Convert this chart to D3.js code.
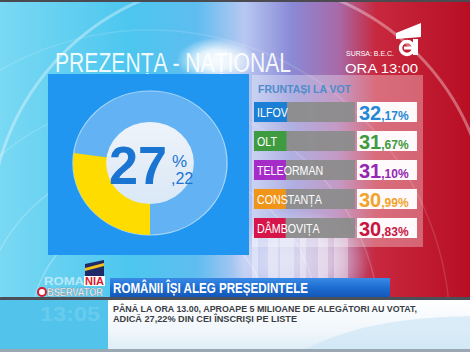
<!DOCTYPE html>
<html lang="ro">
<head>
<meta charset="utf-8">
<script src="https://cdn.jsdelivr.net/npm/d3@7"></script>
<style>
  html, body { margin: 0; padding: 0; background: #000; }
  svg { display: block; font-family: "Liberation Sans", Arial, sans-serif; }
</style>
</head>
<body>
<svg id="chart" width="470" height="352"></svg>
<script>
// Prezența la vot la ora 13:00: inel pentru media națională + fruntașii pe județe.

const judete = ["ILFOV", "OLT", "TELEORMAN", "CONSTANȚA", "DÂMBOVIȚA"];
const prezentaJudete = [32.17, 31.67, 31.1, 30.99, 30.83];
const culoriBare = ["#1b7fd6", "#3f9b3f", "#a52cc9", "#f0941a", "#d6154a"];
const culoriValori = ["#2588d6", "#3f9a3f", "#9426b2", "#f0a42a", "#c8143f"];
const prezentaNationala = 27.22;

const titlu = "PREZENȚA - NAȚIONAL";
const antetLista = "FRUNTAȘI LA VOT";
const sursa = "SURSA: B.E.C.";
const ora = "ORA 13:00";
const titluStire = "ROMÂNII ÎȘI ALEG PREȘEDINTELE";
const textStire = [
  "PÂNĂ LA ORA 13.00, APROAPE 5 MILIOANE DE ALEGĂTORI AU VOTAT,",
  "ADICĂ 27,22% DIN CEI ÎNSCRIȘI PE LISTE",
];

const W = 470;
const H = 352;
const svg = d3.select("#chart");
const defs = svg.append("defs");

function linearGradient(id, stops, x2 = 1, y2 = 0) {
  const g = defs
    .append("linearGradient")
    .attr("id", id)
    .attr("x1", 0)
    .attr("y1", 0)
    .attr("x2", x2)
    .attr("y2", y2);
  g.selectAll("stop")
    .data(stops)
    .join("stop")
    .attr("offset", (d) => d[0])
    .attr("stop-color", (d) => d[1])
    .attr("stop-opacity", (d) => (d[2] ?? 1));
}

linearGradient("fundal", [
  [0, "#7ad9f3"],
  [0.28, "#4cc6ef"],
  [0.42, "#5fbdf0"],
  [0.52, "#b8c8f2"],
  [0.62, "#8a8ad6"],
  [0.72, "#a86aa8"],
  [0.8, "#c8283e"],
  [1, "#b80e24"],
]);
linearGradient("banda", [
  [0, "#3a8ae6"],
  [0.5, "#1d6ed2"],
  [1, "#1557b8"],
], 0, 1);
linearGradient("subsol", [
  [0, "#ffffff"],
  [0.6, "#f0f6fb"],
  [1, "#dcecf6"],
], 0, 1);
linearGradient("disc", [
  [0, "#eef3fa"],
  [1, "#dae8f6"],
], 0, 1);

const stralucire = defs
  .append("radialGradient")
  .attr("id", "stralucire");
stralucire.append("stop").attr("offset", 0).attr("stop-color", "#fff").attr("stop-opacity", 0.95);
stralucire.append("stop").attr("offset", 0.45).attr("stop-color", "#fff").attr("stop-opacity", 0.8);
stralucire.append("stop").attr("offset", 1).attr("stop-color", "#fff").attr("stop-opacity", 0);

// --- fundal ---
svg.append("rect").attr("width", W).attr("height", H).attr("fill", "url(#fundal)");
svg.append("ellipse")
  .attr("cx", 300).attr("cy", 260).attr("rx", 70).attr("ry", 50)
  .attr("fill", "url(#stralucire)").attr("opacity", 0.7);

const arce = svg.append("g").attr("fill", "none").attr("stroke", "#fff");
[120, 170, 230, 300].forEach((r, i) => {
  arce.append("circle")
    .attr("cx", 150).attr("cy", 330).attr("r", r)
    .attr("stroke-opacity", 0.25 - i * 0.04)
    .attr("stroke-width", 1.5);
});
arce.append("circle")
  .attr("cx", 240).attr("cy", 230).attr("r", 250)
  .attr("stroke-opacity", 0.35).attr("stroke-width", 3);

svg.append("g")
  .selectAll("rect")
  .data([252, 268, 280, 300, 318, 334])
  .join("rect")
  .attr("x", (d) => d)
  .attr("y", 235)
  .attr("width", (d, i) => 6 + (i % 3) * 4)
  .attr("height", 65)
  .attr("fill", "#fff")
  .attr("opacity", 0.35);

svg.append("rect").attr("width", W).attr("height", 2).attr("fill", "#4a4a50");

// --- titlu ---
svg.append("text")
  .attr("x", 55).attr("y", 72)
  .attr("textLength", 236).attr("lengthAdjust", "spacingAndGlyphs")
  .attr("font-size", 27)
  .attr("fill", "#fff").attr("fill-opacity", 0.92)
  .text(titlu);
// reflexul luminos care acoperă mijlocul titlului
svg.append("ellipse")
  .attr("cx", 216).attr("cy", 60).attr("rx", 40).attr("ry", 22)
  .attr("fill", "url(#stralucire)");

// sigla postului
const sigla = svg.append("g").attr("fill", "#fff");
sigla.append("path").attr("d", "M396,33 L421,23 L421,37 L396,39 Z");
sigla.append("circle")
  .attr("cx", 407).attr("cy", 48).attr("r", 6.5)
  .attr("fill", "none").attr("stroke", "#fff").attr("stroke-width", 3.5);
sigla.append("rect").attr("x", 413).attr("y", 39).attr("width", 5).attr("height", 16);
sigla.append("rect").attr("x", 404).attr("y", 46.5).attr("width", 11).attr("height", 3);

svg.append("text")
  .attr("x", 346).attr("y", 56)
  .attr("font-size", 6.5).attr("fill", "#fff")
  .attr("textLength", 48).attr("lengthAdjust", "spacingAndGlyphs")
  .text(sursa);
svg.append("text")
  .attr("x", 345).attr("y", 73)
  .attr("font-size", 13.5).attr("fill", "#fff")
  .attr("textLength", 73).attr("lengthAdjust", "spacingAndGlyphs")
  .text(ora);

// --- panou stânga: inelul național ---
svg.append("rect")
  .attr("x", 48).attr("y", 74).attr("width", 201).attr("height", 181)
  .attr("fill", "#2196f1");

const cx = 150;
const cy = 163;
const razaExt = 72;
const razaInt = 40;
const unghi = d3.scaleLinear().domain([0, 100]).range([Math.PI, 3 * Math.PI]);
const arc = d3.arc().innerRadius(razaInt).outerRadius(razaExt);

const inel = svg.append("g").attr("transform", `translate(${cx},${cy}) scale(1.07,1)`);
inel.append("circle")
  .attr("r", razaExt)
  .attr("fill", "#63b2f3")
  .attr("stroke", "#a9d7fb")
  .attr("stroke-width", 1.2);
inel.append("path")
  .datum({ startAngle: unghi(0), endAngle: unghi(prezentaNationala) })
  .attr("d", arc)
  .attr("fill", "#fedc00");
inel.append("circle")
  .attr("r", razaInt + 1)
  .attr("fill", "url(#disc)");

const [parteIntreaga, zecimale] = prezentaNationala.toFixed(2).split(".");
svg.append("text")
  .attr("x", 109).attr("y", 184)
  .attr("font-size", 54).attr("font-weight", "bold")
  .attr("fill", "#1a74d2")
  .attr("textLength", 58).attr("lengthAdjust", "spacingAndGlyphs")
  .text(parteIntreaga);
svg.append("text")
  .attr("x", 172).attr("y", 167)
  .attr("font-size", 17).attr("fill", "#1a74d2")
  .text("%");
svg.append("text")
  .attr("x", 171).attr("y", 184)
  .attr("font-size", 16).attr("fill", "#1a74d2")
  .text("," + zecimale);

// --- panou dreapta: fruntașii ---
svg.append("rect")
  .attr("x", 252).attr("y", 75).attr("width", 171).attr("height", 172)
  .attr("fill", "#fff").attr("opacity", 0.32);

svg.append("text")
  .attr("x", 258).attr("y", 93)
  .attr("font-size", 11).attr("font-weight", "bold")
  .attr("fill", "#4f8ccb")
  .attr("textLength", 93).attr("lengthAdjust", "spacingAndGlyphs")
  .text(antetLista);

const randuri = judete.map((judet, i) => ({
  judet,
  valoare: prezentaJudete[i],
  culoareBara: culoriBare[i],
  culoareValoare: culoriValori[i],
}));

const y = d3.scaleBand().domain(judete).range([102, 238]).paddingInner(0.31);
const xBara = d3.scaleLinear().domain([0, 100]).range([254, 355]);
const latimeUmplere = d3.scaleLinear().domain([0, d3.max(prezentaJudete)]).range([0, 33]);

const rand = svg.append("g")
  .selectAll(".rand")
  .data(randuri, (d) => d.judet)
  .join("g")
  .attr("class", "rand");

rand.append("rect")
  .attr("x", xBara(0))
  .attr("y", (d) => y(d.judet))
  .attr("width", xBara(100) - xBara(0))
  .attr("height", y.bandwidth())
  .attr("fill", "#8c8c8c")
  .attr("opacity", 0.95);

rand.append("rect")
  .attr("x", xBara(0))
  .attr("y", (d) => y(d.judet))
  .attr("width", (d) => latimeUmplere(d.valoare))
  .attr("height", y.bandwidth())
  .attr("fill", (d) => d.culoareBara);

rand.append("text")
  .attr("transform", (d) => `translate(257,${y(d.judet) + 15}) scale(0.82,1)`)
  .attr("font-size", 13)
  .attr("fill", "#fff")
  .text((d) => d.judet);

rand.append("rect")
  .attr("x", 357)
  .attr("y", (d) => y(d.judet))
  .attr("width", 60)
  .attr("height", y.bandwidth())
  .attr("fill", "#fff")
  .attr("opacity", 0.96);

const valoare = rand.append("text")
  .attr("x", 359)
  .attr("y", (d) => y(d.judet) + 18)
  .attr("font-weight", "bold")
  .attr("fill", (d) => d.culoareValoare);
valoare.append("tspan")
  .attr("font-size", 20)
  .text((d) => d.valoare.toFixed(2).split(".")[0]);
valoare.append("tspan")
  .attr("font-size", 12)
  .text((d) => "," + d.valoare.toFixed(2).split(".")[1] + "%");

// --- banda de știri ---
svg.append("rect")
  .attr("x", 0).attr("y", 300).attr("width", W).attr("height", 52)
  .attr("fill", "#52c4ec");
svg.append("rect")
  .attr("x", 108).attr("y", 300).attr("width", W - 108).attr("height", 52)
  .attr("fill", "url(#subsol)");
svg.append("path")
  .attr("d", "M300,352 C360,320 420,318 470,316 L470,352 Z")
  .attr("fill", "#cfe7f5").attr("opacity", 0.7);
svg.append("rect")
  .attr("x", 0).attr("y", 297).attr("width", W).attr("height", 3)
  .attr("fill", "#4b4f58");
svg.append("rect")
  .attr("x", 0).attr("y", 349).attr("width", W).attr("height", 3)
  .attr("fill", "#9aa8b4");

svg.append("rect")
  .attr("x", 110).attr("y", 278).attr("width", 280).attr("height", 19)
  .attr("fill", "url(#banda)");
svg.append("text")
  .attr("x", 113).attr("y", 293)
  .attr("font-size", 14).attr("font-weight", "bold")
  .attr("fill", "#fff")
  .attr("textLength", 195).attr("lengthAdjust", "spacingAndGlyphs")
  .text(titluStire);

svg.append("g")
  .selectAll("text")
  .data(textStire)
  .join("text")
  .attr("x", 113)
  .attr("y", (d, i) => 312 + i * 10)
  .attr("font-size", 9.5)
  .attr("font-weight", "bold")
  .attr("fill", "#3a3d44")
  .attr("textLength", (d, i) => (i === 0 ? 304 : 184))
  .attr("lengthAdjust", "spacingAndGlyphs")
  .text((d) => d);

// sigla emisiunii și ceasul
const emisiune = svg.append("g");
emisiune.append("path")
  .attr("d", "M85,264 L104,260 L104,276 L85,276 Z")
  .attr("fill", "#1f2a66");
emisiune.append("path")
  .attr("d", "M85,268 L104,263 L104,266 L85,271 Z")
  .attr("fill", "#f2c21a");
emisiune.append("rect")
  .attr("x", 84).attr("y", 276).attr("width", 21).attr("height", 10)
  .attr("fill", "#fff");
emisiune.append("text")
  .attr("x", 44).attr("y", 285)
  .attr("font-size", 11).attr("font-weight", "bold")
  .attr("fill", "#fff").attr("fill-opacity", 0.55)
  .attr("textLength", 40).attr("lengthAdjust", "spacingAndGlyphs")
  .text("ROMA");
emisiune.append("text")
  .attr("x", 85).attr("y", 285)
  .attr("font-size", 11).attr("font-weight", "bold")
  .attr("fill", "#d9182c")
  .attr("textLength", 19).attr("lengthAdjust", "spacingAndGlyphs")
  .text("NIA");
emisiune.append("circle")
  .attr("cx", 42).attr("cy", 292).attr("r", 4)
  .attr("fill", "#fff").attr("stroke", "#d9182c").attr("stroke-width", 2);
emisiune.append("text")
  .attr("x", 47).attr("y", 296)
  .attr("font-size", 10).attr("font-weight", "bold")
  .attr("fill", "#fff")
  .attr("stroke", "#7a8a98").attr("stroke-width", 0.4)
  .attr("textLength", 56).attr("lengthAdjust", "spacingAndGlyphs")
  .text("BSERVATOR");
emisiune.append("text")
  .attr("x", 40).attr("y", 321)
  .attr("font-size", 20).attr("font-weight", "bold")
  .attr("fill", "#fff").attr("fill-opacity", 0.15)
  .attr("textLength", 60).attr("lengthAdjust", "spacingAndGlyphs")
  .text("13:05");
</script>
</body>
</html>
